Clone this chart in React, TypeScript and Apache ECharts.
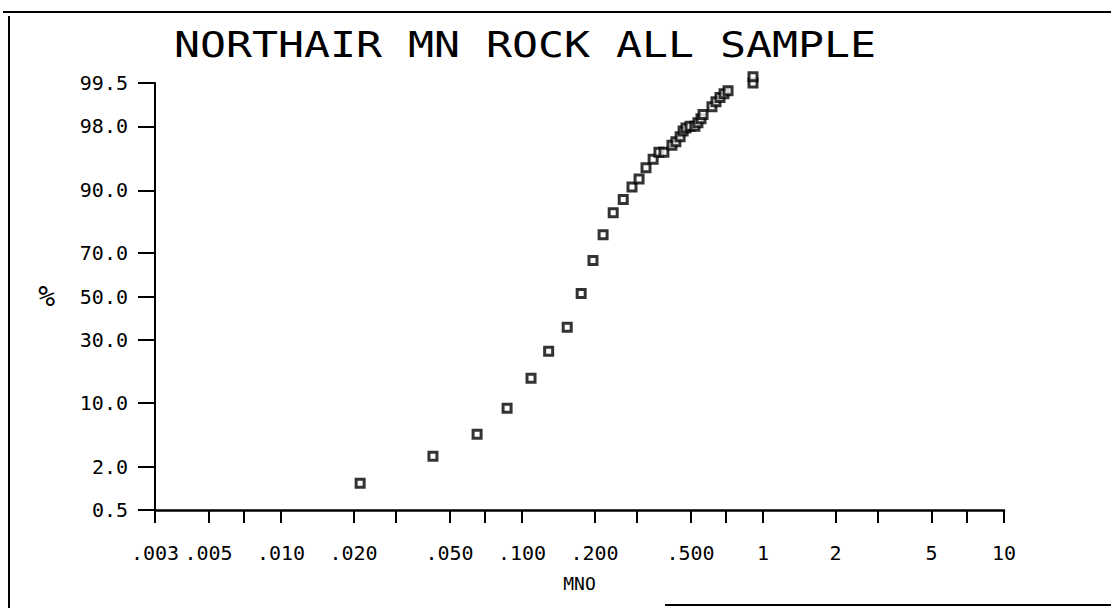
import React, { useEffect, useRef } from "react";
import * as echarts from "echarts";

// MnO concentration (x) and cumulative percent (y)
const mnoValues = [
  0.0213, 0.0427, 0.0651, 0.0867, 0.109, 0.129, 0.154, 0.176, 0.197, 0.217,
  0.239, 0.263, 0.286, 0.306, 0.327, 0.35, 0.37, 0.388, 0.419, 0.435,
  0.453, 0.466, 0.479, 0.498, 0.522, 0.537, 0.553, 0.564, 0.614, 0.638,
  0.663, 0.689, 0.716, 0.909, 0.909,
];
const cumPercent = [
  1.21, 2.69, 4.82, 8.86, 16.2, 25.4, 35.5, 51.4, 66.8, 77.2,
  84.4, 87.9, 90.7, 92.2, 94.0, 95.1, 95.9, 95.9, 96.6, 96.9,
  97.3, 97.7, 97.9, 98.0, 98.0, 98.2, 98.4, 98.6, 98.9, 99.06,
  99.18, 99.28, 99.35, 99.5, 99.6,
];

const xTickValues = [0.003, 0.005, 0.007, 0.01, 0.02, 0.03, 0.05, 0.07, 0.1, 0.2, 0.3, 0.5, 0.7, 1, 2, 3, 5, 7, 10];
const xLabelValues = [0.003, 0.005, 0.01, 0.02, 0.05, 0.1, 0.2, 0.5, 1, 2, 5, 10];
const xLabelTexts = [".003", ".005", ".010", ".020", ".050", ".100", ".200", ".500", "1", "2", "5", "10"];
const yTickPercents = [0.5, 2, 10, 30, 50, 70, 90, 98, 99.5];
const yLabelTexts = ["0.5", "2.0", "10.0", "30.0", "50.0", "70.0", "90.0", "98.0", "99.5"];

const xMin = 0.003;
const xMax = 10;
const yMinPct = 0.5;
const yMaxPct = 99.5;

const titleText = "NORTHAIR MN ROCK ALL SAMPLE";

function probit(p: number): number {
  const a = [-3.969683028665376e1, 2.209460984245205e2, -2.759285104469687e2, 1.38357751867269e2, -3.066479806614716e1, 2.506628277459239];
  const b = [-5.447609879822406e1, 1.615858368580409e2, -1.556989798598866e2, 6.680131188771972e1, -1.328068155288572e1];
  const c = [-7.784894002430293e-3, -3.223964580411365e-1, -2.400758277161838, -2.549732539343734, 4.374664141464968, 2.938163982698783];
  const d = [7.784695709041462e-3, 3.224671290700398e-1, 2.445134137142996, 3.754408661907416];
  const pl = 0.02425;
  const ph = 1 - pl;
  if (p < pl) {
    const q = Math.sqrt(-2 * Math.log(p));
    return (((((c[0] * q + c[1]) * q + c[2]) * q + c[3]) * q + c[4]) * q + c[5]) / ((((d[0] * q + d[1]) * q + d[2]) * q + d[3]) * q + 1);
  }
  if (p <= ph) {
    const q = p - 0.5;
    const r = q * q;
    return ((((((a[0] * r + a[1]) * r + a[2]) * r + a[3]) * r + a[4]) * r + a[5]) * q) / (((((b[0] * r + b[1]) * r + b[2]) * r + b[3]) * r + b[4]) * r + 1);
  }
  const q = Math.sqrt(-2 * Math.log(1 - p));
  return -(((((c[0] * q + c[1]) * q + c[2]) * q + c[3]) * q + c[4]) * q + c[5]) / ((((d[0] * q + d[1]) * q + d[2]) * q + d[3]) * q + 1);
}

const lx = (v: number) => Math.log10(v);
const py = (pct: number) => probit(pct / 100);

function nearestLabel(v: number, vals: number[], texts: string[]): string {
  let best = 0;
  let bd = Infinity;
  vals.forEach((t, i) => {
    const dd = Math.abs(t - v);
    if (dd < bd) {
      bd = dd;
      best = i;
    }
  });
  return bd < 1e-6 ? texts[best] : "";
}

const FONT = "DejaVu Sans Mono";

export default function App() {
  const ref = useRef<HTMLDivElement>(null);
  useEffect(() => {
    if (!ref.current) return;
    const chart = echarts.init(ref.current, undefined, { renderer: "svg" });
    const xTicksL = xTickValues.map(lx);
    const xLabelsL = xLabelValues.map(lx);
    const yTicksP = yTickPercents.map(py);
    const data = mnoValues.map((v, i) => [lx(v), py(cumPercent[i])]);

    chart.setOption({
      animation: false,
      backgroundColor: "#ffffff",
      grid: { left: 155, right: 107, top: 83, bottom: 98 },
      xAxis: {
        type: "value",
        min: lx(xMin),
        max: lx(xMax),
        name: "MNO",
        nameLocation: "middle",
        nameGap: 64,
        nameTextStyle: { color: "#000", fontFamily: FONT, fontSize: 18 },
        axisLine: { show: true, onZero: false, lineStyle: { color: "#000", width: 2.5 } },
        axisTick: { show: true, length: 13, customValues: xTicksL, lineStyle: { color: "#000", width: 2 } },
        axisLabel: {
          customValues: xLabelsL,
          margin: 33,
          color: "#000",
          fontFamily: FONT,
          fontSize: 20,
          formatter: (v: number) => nearestLabel(v, xLabelsL, xLabelTexts),
        },
        splitLine: { show: false },
      },
      yAxis: {
        type: "value",
        min: py(yMinPct),
        max: py(yMaxPct),
        name: "%",
        nameLocation: "middle",
        nameGap: 100,
        nameRotate: 0,
        nameTextStyle: { color: "#000", fontFamily: FONT, fontSize: 28 },
        axisLine: { show: true, onZero: false, lineStyle: { color: "#000", width: 2 } },
        axisTick: { show: true, length: 17, customValues: yTicksP, lineStyle: { color: "#000", width: 2 } },
        axisLabel: {
          customValues: yTicksP,
          margin: 27,
          color: "#000",
          fontFamily: FONT,
          fontSize: 20,
          formatter: (v: number) => nearestLabel(v, yTicksP, yLabelTexts),
        },
        splitLine: { show: false },
      },
      series: [
        {
          type: "scatter",
          data,
          clip: false,
          symbol: "rect",
          symbolSize: 8,
          itemStyle: { color: "#ffffff", borderColor: "#000", borderWidth: 3 },
          emphasis: { disabled: true },
        },
      ],
      graphic: [
        {
          type: "text",
          x: 525,
          y: 44,
          scaleX: 1.2,
          style: {
            text: titleText,
            fill: "#000",
            font: `normal 36px "${FONT}"`,
            textAlign: "center",
            textVerticalAlign: "middle",
          },
        },
        { type: "line", shape: { x1: 3, y1: 12, x2: 1111, y2: 12 }, style: { stroke: "#000", lineWidth: 2 } },
        { type: "line", shape: { x1: 9, y1: 16, x2: 9, y2: 608 }, style: { stroke: "#000", lineWidth: 2 } },
        { type: "line", shape: { x1: 665, y1: 605, x2: 1111, y2: 605 }, style: { stroke: "#000", lineWidth: 2 } },
      ],
    });
    return () => chart.dispose();
  }, []);
  return <div ref={ref} style={{ position: "fixed", left: 0, top: 0, width: 1111, height: 608 }} />;
}
